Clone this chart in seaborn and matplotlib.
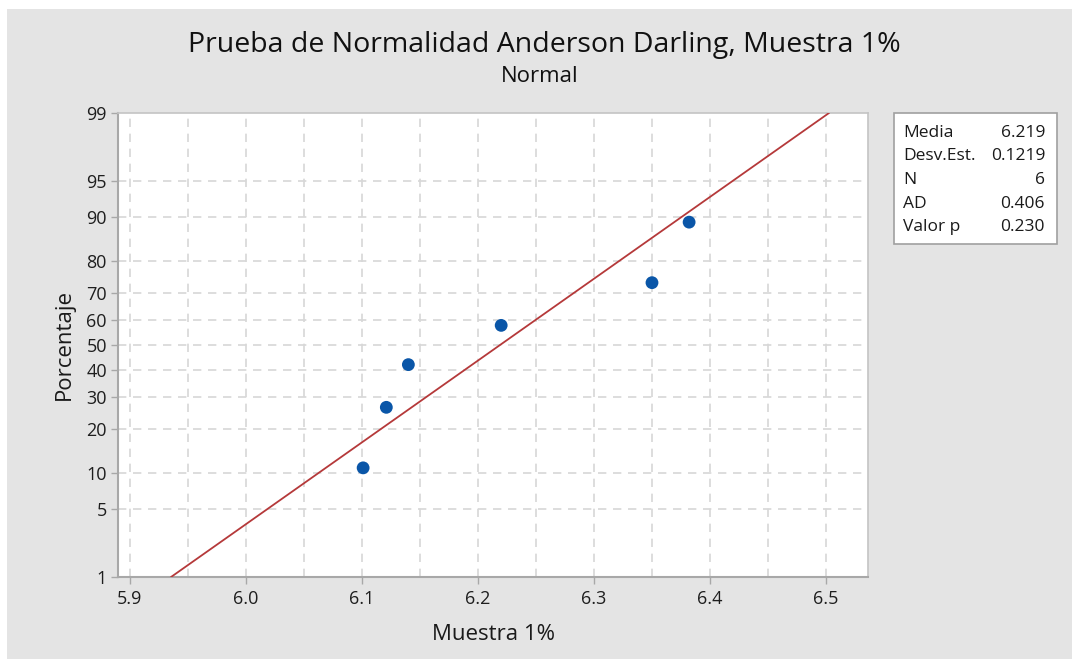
import matplotlib
matplotlib.use("Agg")
import matplotlib.pyplot as plt
from matplotlib.patches import Rectangle
import seaborn as sns
import pandas as pd
from statistics import NormalDist

# Sample values and their plotting percentages (median ranks)
muestra = [6.101, 6.121, 6.140, 6.220, 6.350, 6.382]
porcentaje = [10.9, 26.6, 42.2, 57.8, 73.4, 89.1]

# Summary statistics shown in the side box
media = 6.219
desv_est = 0.1219
n_obs = 6
ad_stat = 0.406
valor_p = 0.230

y_ticks = [1, 5, 10, 20, 30, 40, 50, 60, 70, 80, 90, 95, 99]
x_ticks = [5.9, 6.0, 6.1, 6.2, 6.3, 6.4, 6.5]

nd = NormalDist()
def z(p):
    return nd.inv_cdf(p / 100.0)

sns.set_theme(style="white")
plt.rcParams["font.family"] = ["Open Sans", "DejaVu Sans"]

fig = plt.figure(figsize=(10.72, 6.59), dpi=100, facecolor="white")
fig.patches.append(Rectangle((7 / 1072, 0), 1, 1 - 9 / 659, transform=fig.transFigure,
                             facecolor="#e4e4e4", edgecolor="none", zorder=-10))
ax = fig.add_axes([118 / 1072, 82 / 659, 750 / 1072, 464 / 659])
ax.set_facecolor("white")

# Fitted normal line from the mean and standard deviation
line_p = [1, 99]
line_df = pd.DataFrame({"x": [media + desv_est * z(p) for p in line_p],
                        "z": [z(p) for p in line_p]})
sns.lineplot(data=line_df, x="x", y="z", ax=ax, color="#b5393a", linewidth=1.3, zorder=3)

pts = pd.DataFrame({"x": muestra, "z": [z(p) for p in porcentaje]})
sns.scatterplot(data=pts, x="x", y="z", ax=ax, color="#0a56a8", s=85,
                edgecolor="none", zorder=4)

ax.set_xlim(5.8897, 6.5362)
ax.set_ylim(z(1), z(99))

# Dashed grid
for gx in [5.9 + 0.05 * i for i in range(13)]:
    ax.axvline(gx, color="#d7d7d7", linestyle=(0, (5, 4)), linewidth=1.2, zorder=1)
for p in y_ticks[1:-1]:
    ax.axhline(z(p), color="#d7d7d7", linestyle=(0, (5, 4)), linewidth=1.2, zorder=1)

ax.set_xticks(x_ticks)
ax.set_xticklabels([f"{v:.1f}" for v in x_ticks])
ax.set_yticks([z(p) for p in y_ticks])
ax.set_yticklabels([str(p) for p in y_ticks])
ax.tick_params(axis="both", direction="out", length=5, width=1, color="#a8a8a8",
               labelsize=13, labelcolor="#1e1e1e", pad=3)
ax.tick_params(axis="x", pad=4)
ax.tick_params(bottom=True, left=True)
for side in ["left", "bottom"]:
    ax.spines[side].set_color("#a8a8a8")
    ax.spines[side].set_linewidth(1.5)
for side in ["top", "right"]:
    ax.spines[side].set_color("#c4c4c4")
    ax.spines[side].set_linewidth(1.2)

ax.set_xlabel("Muestra 1%", fontsize=16, color="#1a1a1a", labelpad=12)
ax.set_ylabel("Porcentaje", fontsize=16, color="#1a1a1a", labelpad=8)

fig.text(544 / 1072, 1 - 45 / 659, "Prueba de Normalidad Anderson Darling, Muestra 1%",
         ha="center", va="center", fontsize=20.5, color="#111111")
fig.text(540 / 1072, 1 - 76 / 659, "Normal", ha="center", va="center",
         fontsize=16, color="#111111")

# Statistics box
box_l, box_r, box_t, box_b = 894, 1057, 113, 244
fig.patches.append(Rectangle((box_l / 1072, 1 - box_b / 659), (box_r - box_l) / 1072,
                             (box_b - box_t) / 659, transform=fig.transFigure,
                             facecolor="white", edgecolor="#a0a0a0", linewidth=1.2))
rows = [("Media", f"{media:.3f}"), ("Desv.Est.", f"{desv_est:.4f}"), ("N", f"{n_obs}"),
        ("AD", f"{ad_stat:.3f}"), ("Valor p", f"{valor_p:.3f}")]
for i, (lab, val) in enumerate(rows):
    yy = 1 - (133 + i * 23.5) / 659
    fig.text(903 / 1072, yy, lab, ha="left", va="center", fontsize=12.5, color="#1a1a1a")
    fig.text(1045 / 1072, yy, val, ha="right", va="center", fontsize=12.5, color="#1a1a1a")

fig.savefig("out.png", dpi=100, facecolor=fig.get_facecolor())
